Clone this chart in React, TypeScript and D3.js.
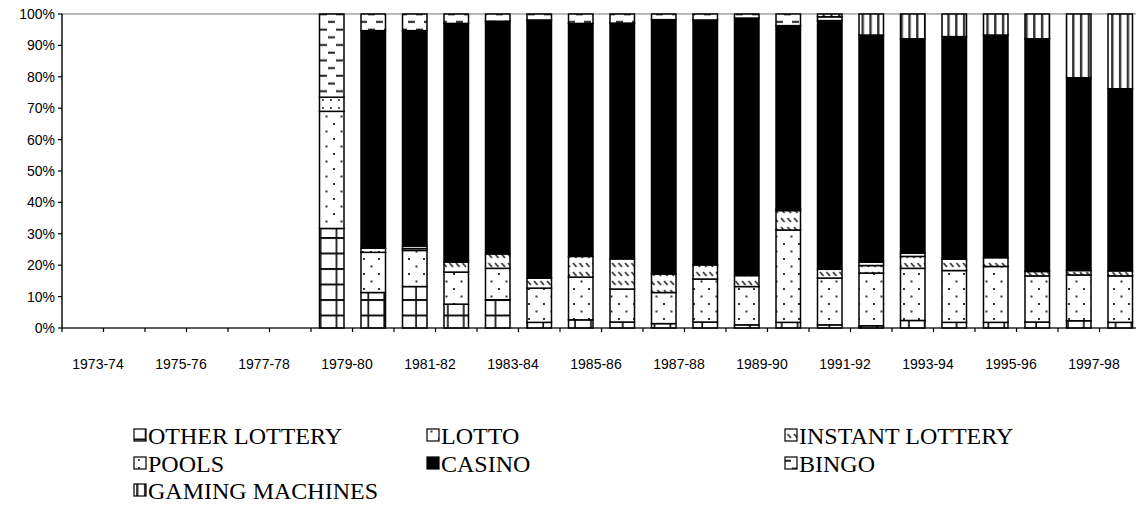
import React, { useEffect } from 'react';
import * as d3 from 'd3';

const categories = [
  '1973-74', '1974-75', '1975-76', '1976-77', '1977-78', '1978-79', '1979-80', '1980-81', '1981-82',
  '1982-83', '1983-84', '1984-85', '1985-86', '1986-87', '1987-88', '1988-89', '1989-90', '1990-91',
  '1991-92', '1992-93', '1993-94', '1994-95', '1995-96', '1996-97', '1997-98', '1998-99',
];
const otherLottery = [0, 0, 0, 0, 0, 0, 31.7, 11.3, 13.2, 7.6, 9.0, 1.8, 2.6, 1.9, 1.4, 1.9, 1.0, 1.8, 1.0, 0.7, 2.4, 1.8, 1.8, 1.9, 2.3, 1.8];
const lotto = [0, 0, 0, 0, 0, 0, 37.3, 12.8, 11.5, 10.2, 10.0, 10.9, 13.6, 10.5, 9.9, 13.7, 12.2, 29.4, 14.9, 16.8, 16.6, 16.5, 17.8, 14.7, 14.6, 14.8];
const instantLottery = [0, 0, 0, 0, 0, 0, 0, 0, 0.6, 3.2, 4.6, 3.2, 6.6, 9.6, 5.9, 4.5, 3.5, 6.2, 2.8, 2.4, 3.8, 3.6, 2.8, 1.4, 1.4, 1.6];
const pools = [0, 0, 0, 0, 0, 0, 4.5, 1.3, 0.8, 0, 0, 0, 0, 0, 0, 0, 0, 0.5, 0, 1.1, 1.0, 0, 0, 0, 0, 0];
const casino = [0, 0, 0, 0, 0, 0, 0, 69.3, 68.6, 76.0, 74.1, 82.2, 74.2, 75.1, 81.0, 78.0, 82.0, 58.4, 79.2, 72.3, 68.3, 70.9, 70.9, 74.1, 61.4, 58.0];
const bingo = [0, 0, 0, 0, 0, 0, 26.5, 5.3, 5.3, 3.0, 2.3, 1.9, 3.0, 2.9, 1.8, 1.9, 1.3, 3.7, 1.2, 0, 0, 0, 0, 0, 0, 0];
const gamingMachines = [0, 0, 0, 0, 0, 0, 0, 0, 0, 0, 0, 0, 0, 0, 0, 0, 0, 0, 0.9, 6.7, 7.9, 7.2, 6.7, 7.9, 20.3, 23.8];

const seriesNames = ['OTHER LOTTERY', 'LOTTO', 'INSTANT LOTTERY', 'POOLS', 'CASINO', 'BINGO', 'GAMING MACHINES'];
const seriesValues = [otherLottery, lotto, instantLottery, pools, casino, bingo, gamingMachines];
const seriesFill = ['url(#pOther)', 'url(#pLotto)', 'url(#pInstant)', 'url(#pPools)', '#000', 'url(#pBingo)', 'url(#pGaming)'];
const yTicks = [0, 0.1, 0.2, 0.3, 0.4, 0.5, 0.6, 0.7, 0.8, 0.9, 1];

const W = 1136;
const H = 508;
const left = 62;
const top = 14;
const bottom = 328;
const step = 41.5;

export default function App() {
  useEffect(() => {
    document.body.style.margin = '0';
  }, []);

  const rows = categories.map((c, i) => {
    const r: Record<string, any> = { cat: c };
    seriesNames.forEach((s, k) => (r[s] = seriesValues[k][i]));
    return r;
  });
  const stacked = d3.stack().keys(seriesNames).offset(d3.stackOffsetExpand)(rows as any);

  const x = d3
    .scaleBand<string>()
    .domain(categories)
    .range([left, left + step * categories.length])
    .paddingInner(0.41)
    .paddingOuter(0.205);
  const y = d3.scaleLinear().domain([0, 1]).range([bottom, top]);

  const plotRight = left + step * categories.length;

  const legendCols = [134, 427, 785];
  const legendRows = [444, 472, 499];

  return (
    <svg width={W} height={H} style={{ position: 'absolute', left: 0, top: 0, background: '#fff' }}>
      <defs>
        <pattern id="pOther" patternUnits="userSpaceOnUse" width={15.9} height={15.5} x={3.5} y={4.5}>
          <rect width={15.9} height={15.5} fill="#fff" />
          <rect x={14.2} y={0} width={2} height={15.5} fill="#111" />
          <rect x={0} y={0} width={15.9} height={2} fill="#111" />
        </pattern>
        <pattern id="pGaming" patternUnits="userSpaceOnUse" width={7.8} height={8} x={3.5} y={0}>
          <rect width={7.8} height={8} fill="#fff" />
          <rect x={0} y={0} width={2.4} height={8} fill="#333" />
        </pattern>
        <pattern id="pLotto" patternUnits="userSpaceOnUse" width={15} height={15} x={0} y={0}>
          <rect width={15} height={15} fill="#fff" />
          <rect x={3} y={3} width={2} height={2} fill="#333" />
          <rect x={10.5} y={10.5} width={2} height={2} fill="#333" />
        </pattern>
        <pattern id="pPools" patternUnits="userSpaceOnUse" width={8} height={8} x={0} y={0}>
          <rect width={8} height={8} fill="#fff" />
          <rect x={2} y={3} width={1.8} height={1.8} fill="#333" />
        </pattern>
        <pattern id="pInstant" patternUnits="userSpaceOnUse" width={6.5} height={9} x={0} y={0}>
          <rect width={6.5} height={9} fill="#fff" />
          <line x1={1} y1={2} x2={4.5} y2={6} stroke="#333" strokeWidth={1.8} />
        </pattern>
        <pattern id="pBingo" patternUnits="userSpaceOnUse" width={16} height={15.4} x={0} y={0}>
          <rect width={16} height={15.4} fill="#fff" />
          <rect x={8} y={5.5} width={7} height={2} fill="#222" />
          <rect x={0} y={13.2} width={7} height={2} fill="#222" />
        </pattern>
      </defs>

      {/* plot area border */}
      <rect x={left} y={top} width={plotRight - left} height={bottom - top} fill="none" stroke="#8c8c8c" strokeWidth={1.2} />

      {/* bars */}
      {stacked.map((layer, k) => (
        <g key={layer.key}>
          {layer
            .filter((d) => d[1] - d[0] > 0.0001)
            .map((d) => (
              <rect
                key={d.data.cat as string}
                x={x(d.data.cat as string)}
                y={y(d[1])}
                width={x.bandwidth()}
                height={y(d[0]) - y(d[1])}
                fill={seriesFill[k]}
                stroke="#000"
                strokeWidth={1.5}
              />
            ))}
        </g>
      ))}

      {/* y axis */}
      <line x1={left} x2={left} y1={top} y2={bottom} stroke="#000" strokeWidth={1.2} />
      {yTicks.map((t) => (
        <g key={t}>
          <line x1={left - 4} x2={left} y1={y(t)} y2={y(t)} stroke="#000" strokeWidth={1.2} />
          <text
            x={left - 7}
            y={y(t)}
            dy="0.35em"
            textAnchor="end"
            fontFamily="'Liberation Sans', Arial, sans-serif"
            fontSize={14}
            fill="#000"
          >
            {d3.format('.0%')(t)}
          </text>
        </g>
      ))}

      {/* x axis */}
      <line x1={left} x2={plotRight} y1={bottom} y2={bottom} stroke="#000" strokeWidth={1.2} />
      {categories.map((c) => (
        <line
          key={'t' + c}
          x1={(x(c) as number) - x.step() * 0.205}
          x2={(x(c) as number) - x.step() * 0.205}
          y1={bottom}
          y2={bottom + 4}
          stroke="#000"
          strokeWidth={1.2}
        />
      ))}
      {categories.map((c, i) =>
        i % 2 === 0 ? (
          <text
            key={'l' + c}
            x={(x(c) as number) - x.step() * 0.205 + 36}
            y={364}
            dy="0.35em"
            textAnchor="middle"
            fontFamily="'Liberation Sans', Arial, sans-serif"
            fontSize={14}
            fill="#000"
          >
            {c}
          </text>
        ) : null
      )}

      {/* legend */}
      {seriesNames.map((s, k) => {
        const cx = legendCols[k % 3];
        const cy = legendRows[Math.floor(k / 3)];
        return (
          <g key={'lg' + s}>
            <rect x={cx} y={cy - 15} width={12} height={12} fill={seriesFill[k]} stroke="#000" strokeWidth={1.2} />
            <text x={cx + 14} y={cy} fontFamily="'Liberation Serif', 'Times New Roman', serif" fontSize={24} fill="#000">
              {s}
            </text>
          </g>
        );
      })}
    </svg>
  );
}
